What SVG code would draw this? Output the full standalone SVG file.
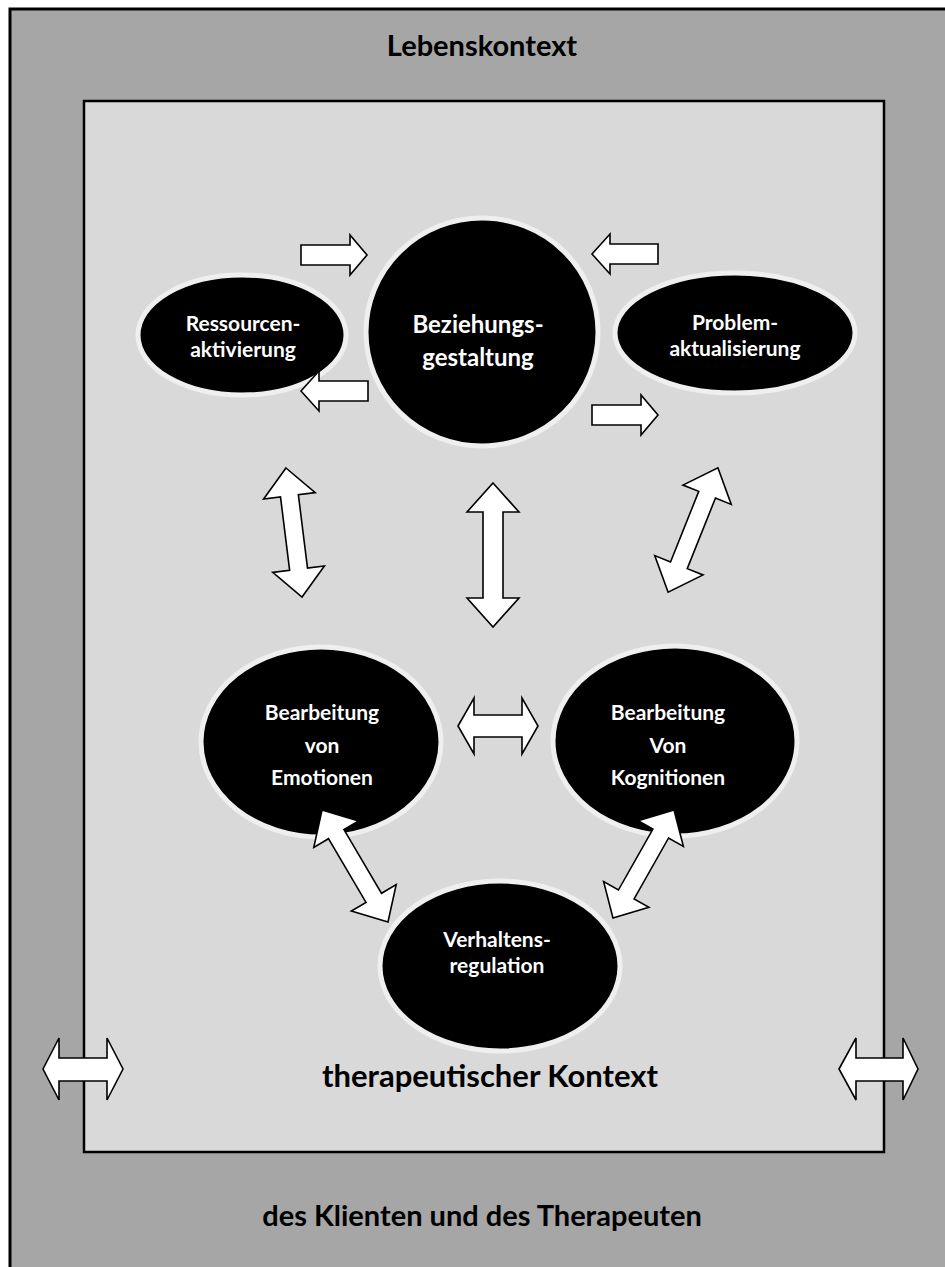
<svg xmlns="http://www.w3.org/2000/svg" width="945" height="1267" viewBox="0 0 945 1267">
<style>
.lbl{font-family:Lato,"Open Sans","Liberation Sans",sans-serif;font-weight:bold;text-anchor:middle}
.in{fill:#ffffff;font-size:21px}
.ctx{fill:#000000;font-size:29px}
.node{fill:#000000;stroke:#efefef;stroke-width:5}
.arr{fill:#ffffff;stroke:#000000;stroke-width:1.6;stroke-linejoin:miter}
</style>
<rect x="10" y="9" width="945" height="1270" fill="#a6a6a6" stroke="#000000" stroke-width="3"/>
<rect x="84" y="101" width="800" height="1051" fill="#d9d9d9" stroke="#000000" stroke-width="2.5"/>
<text class="lbl ctx" x="482" y="56">Lebenskontext</text>
<text class="lbl ctx" x="490" y="1087" style="font-size:31px">therapeutischer Kontext</text>
<text class="lbl ctx" x="482" y="1226" style="font-size:29px">des Klienten und des Therapeuten</text>
<g id="node-beziehung">
<ellipse class="node" cx="482" cy="332" rx="116" ry="114"/>
<text class="lbl in" x="478" y="333" style="font-size:24px">Beziehungs-</text>
<text class="lbl in" x="478" y="366" style="font-size:24px">gestaltung</text>
</g>
<g id="node-ressourcen">
<ellipse class="node" cx="242" cy="335" rx="104" ry="60"/>
<text class="lbl in" x="243" y="331">Ressourcen-</text>
<text class="lbl in" x="243" y="357">aktivierung</text>
</g>
<g id="node-problem">
<ellipse class="node" cx="735" cy="333" rx="120" ry="60"/>
<text class="lbl in" x="735" y="330">Problem-</text>
<text class="lbl in" x="735" y="356">aktualisierung</text>
</g>
<g id="node-emotionen">
<ellipse class="node" cx="321" cy="742" rx="120" ry="95"/>
<text class="lbl in" x="322" y="720">Bearbeitung</text>
<text class="lbl in" x="322" y="753">von</text>
<text class="lbl in" x="322" y="785">Emotionen</text>
</g>
<g id="node-kognitionen">
<ellipse class="node" cx="675" cy="741" rx="122" ry="95"/>
<text class="lbl in" x="668" y="720">Bearbeitung</text>
<text class="lbl in" x="668" y="753">Von</text>
<text class="lbl in" x="668" y="785">Kognitionen</text>
</g>
<g id="node-verhalten">
<ellipse class="node" cx="500" cy="966" rx="120" ry="85"/>
<text class="lbl in" x="497" y="947">Verhaltens-</text>
<text class="lbl in" x="497" y="973">regulation</text>
</g>
<g id="connectors">
<polygon class="arr" points="301,245 350,245 350,235 367,255 350,275 350,265 301,265"/>
<polygon class="arr" points="368,381 319,381 319,371 301,391 319,411 319,401 368,401"/>
<polygon class="arr" points="658,244 610,244 610,234 592,254 610,274 610,264 658,264"/>
<polygon class="arr" points="592,405 641,405 641,395 658,415 641,435 641,425 592,425"/>
<polygon class="arr" points="-72,0 -43,-26 -43,-10 43,-10 43,-26 72,0 43,26 43,10 -43,10 -43,26" transform="translate(493,555) rotate(90)"/>
<polygon class="arr" points="-65,0 -37,-26 -37,-9 37,-9 37,-26 65,0 37,26 37,9 -37,9 -37,26" transform="translate(294,532.5) rotate(82.9)"/>
<polygon class="arr" points="-67,0 -38,-26 -38,-9 38,-9 38,-26 67,0 38,26 38,9 -38,9 -38,26" transform="translate(693,530) rotate(111.8)"/>
<polygon class="arr" points="-40,0 -24,-28 -24,-11 24,-11 24,-28 40,0 24,28 24,11 -24,11 -24,28" transform="translate(498,726)"/>
<polygon class="arr" points="-65,0 -37,-26 -37,-9 37,-9 37,-26 65,0 37,26 37,9 -37,9 -37,26" transform="translate(355,866) rotate(59.5)"/>
<polygon class="arr" points="-62,0 -35,-26 -35,-9 35,-9 35,-26 62,0 35,26 35,9 -35,9 -35,26" transform="translate(643.5,864) rotate(119.5)"/>
<polygon class="arr" points="43,1069 59,1038 59,1058 107,1058 107,1038 123,1069 107,1100 107,1081 59,1081 59,1100"/>
<polygon class="arr" points="839,1069 856,1038 856,1058 903,1058 903,1038 918,1069 903,1100 903,1081 856,1081 856,1100"/>
</g>
</svg>
